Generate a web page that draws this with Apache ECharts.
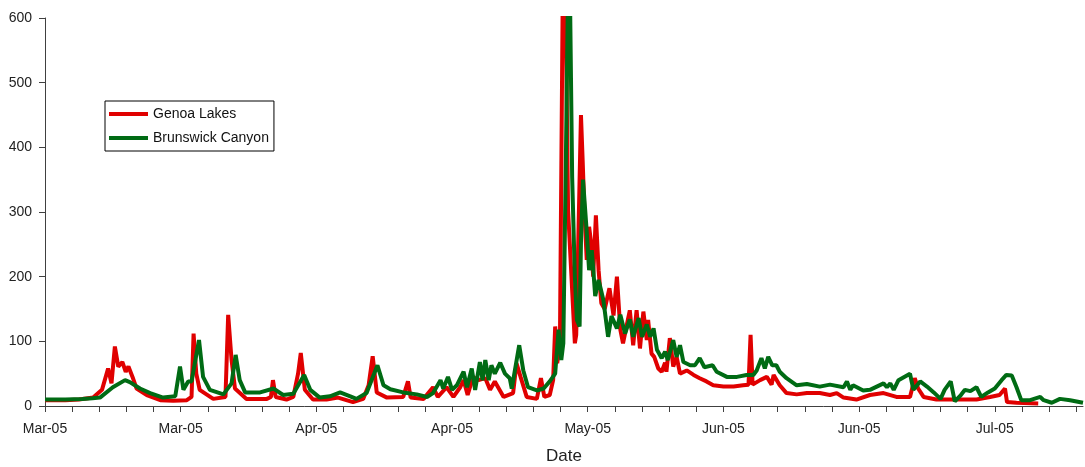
<!DOCTYPE html>
<html>
<head>
<meta charset="utf-8">
<script src="https://cdn.jsdelivr.net/npm/echarts@6/dist/echarts.min.js"></script>
<style>
  html, body { margin: 0; padding: 0; background: #fff; }
  #chart { width: 1085px; height: 467px; }
</style>
</head>
<body>
<div id="chart"></div>
<script>
// x values are days counted from 1 Mar 2005 (axis runs to 1 Aug = day 153)
const xTickLabels = ['Mar-05', 'Mar-05', 'Apr-05', 'Apr-05', 'May-05', 'Jun-05', 'Jun-05', 'Jul-05'];

const genoaDays = [0, 3, 5, 7.1, 8.4, 9.3, 9.8, 10.3, 10.8, 11.4, 11.9, 12.3, 12.9, 13.5, 15, 17, 18.9, 20.9, 21.6, 21.9,
  22.3, 22.8, 24.8, 26.6, 27.0, 27.5, 28.0, 29.7, 32.7, 33.3, 33.6, 34.0, 35.6, 36.6, 37.3, 37.7, 38.3, 39.5, 41.5, 43.2,
  45.4, 46.9, 47.7, 48.3, 48.9, 50.4, 52.8, 53.5, 53.9, 55.8, 57.2, 57.9, 59.2, 60.2, 61.2, 61.7, 62.3, 63.1, 63.9, 64.9,
  65.6, 66.3, 67.6, 69.0, 69.5, 70.1, 71.0, 72.5, 73.1, 73.6, 74.4, 74.9, 75.2, 75.5, 75.9, 76.3, 76.7, 77.1, 77.6, 78.1,
  78.3, 78.6, 79.0, 79.25, 79.5, 79.85, 80.2, 80.5, 80.8, 81.2, 81.6, 82.0, 82.5, 83.2, 83.8, 84.3, 84.8, 85.2, 86.2, 86.7,
  87.2, 87.7, 88.2, 88.7, 88.9, 89.4, 89.8, 90.4, 90.9, 91.4, 91.6, 92.1, 92.6, 93.1, 93.6, 94.6, 95.6, 96.5, 97.5, 98.5,
  100, 101.5, 102.9, 103.7, 104.0, 104.3, 105.4, 106.4, 107.1, 107.4, 108.3, 109.3, 110.8, 112.3, 114.2, 115.7, 116.7, 117.7, 119.6, 121.6,
  123.6, 125.5, 127.5, 128.2, 128.7, 129.5, 131.4, 135.4, 137.3, 139.3, 140.7, 141.5, 141.8, 143.2, 146.4];
const genoaFlow = [9, 9, 10, 13, 25, 58, 35, 92, 61, 68, 53, 61, 45, 27, 17, 9, 8, 9, 14, 112,
  50, 25, 11, 14, 141, 71, 27, 11, 11, 14, 40, 14, 10, 14, 50, 82, 25, 10, 10, 13,
  6, 11, 32, 77, 21, 13, 14, 38, 13, 11, 29, 14, 29, 14, 29, 40, 17, 45, 40, 43,
  25, 38, 14, 20, 66, 45, 14, 11, 43, 14, 17, 40, 123, 66, 97, 620, 650, 303, 200, 97,
  110, 252, 450, 380, 303, 226, 277, 252, 200, 295, 210, 159, 150, 182, 140, 200, 118, 97, 148, 94,
  148, 89, 146, 102, 133, 81, 76, 58, 53, 67, 53, 105, 61, 76, 50, 55, 48, 43, 38, 32,
  30, 30, 32, 33, 110, 33, 40, 45, 33, 48, 32, 20, 18, 20, 20, 17, 20, 13, 10, 17,
  20, 14, 14, 43, 27, 14, 10, 10, 10, 14, 17, 27, 6, 5, 4];

const brunsDays = [0, 3, 5.5, 7, 8.1, 10, 11.8, 12.5, 14, 15.5, 17.4, 19.2, 19.9, 20.4, 21.1, 21.6, 22.7, 23.3, 24.3, 26.3,
  27.5, 28.1, 28.7, 29.5, 31.7, 33.7, 35.1, 36.6, 38.2, 39.1, 40.5, 42.0, 43.5, 45.0, 45.9, 47.4, 49.0, 49.9, 50.9, 52.8,
  54.8, 56.3, 57.2, 58.3, 58.7, 59.4, 60.0, 60.7, 61.7, 62.2, 62.9, 63.4, 64.1, 64.5, 64.9, 65.4, 65.8, 66.3, 67.1, 67.8,
  68.5, 68.8, 69.9, 70.5, 71.2, 72.5, 73.5, 74.4, 75.2, 75.7, 76.1, 76.4, 76.8, 77.1, 77.4, 77.7, 78.1, 78.4, 78.8, 79.0,
  79.3, 79.8, 80.2, 80.6, 81.1, 81.6, 82.3, 83.0, 83.5, 84.3, 84.8, 85.5, 86.2, 86.7, 87.5, 88.0, 88.7, 89.2, 89.7, 90.2,
  90.9, 91.4, 91.8, 92.6, 93.1, 93.6, 94.1, 95.1, 95.8, 96.5, 97.2, 98.4, 99.0, 100.5, 102.0, 103.4, 104.4, 104.9, 105.6, 106.1,
  106.6, 107.2, 107.8, 108.3, 109.3, 110.8, 112.3, 114.2, 115.7, 117.7, 118.2, 118.7, 119.1, 120.6, 121.6, 123.6, 124.1, 124.6, 125.1, 125.8,
  127.5, 128.0, 129.0, 130.0, 131.0, 132.0, 132.6, 133.5, 134.1, 135.0, 135.6, 136.4, 137.3, 138.0, 139.0, 140.0, 141.0, 141.7, 142.5, 143.2,
  143.9, 145.2, 146.7, 147.2, 148.4, 149.6, 151.1, 153];
const brunsFlow = [10, 10, 11, 12, 13, 29, 40, 37, 27, 20, 13, 15, 61, 25, 38, 38, 102, 45, 25, 18,
  35, 79, 40, 21, 21, 27, 17, 19, 48, 25, 13, 15, 21, 15, 11, 20, 63, 32, 26, 21,
  18, 14, 20, 40, 27, 45, 25, 32, 53, 29, 58, 25, 68, 40, 71, 40, 63, 50, 67, 50,
  43, 27, 94, 55, 29, 24, 27, 38, 50, 118, 71, 97, 400, 650, 620, 355, 200, 133, 123, 252,
  350, 277, 210, 241, 170, 195, 164, 107, 139, 120, 141, 112, 134, 107, 136, 107, 126, 107, 120, 87,
  74, 84, 71, 102, 76, 94, 68, 63, 63, 74, 60, 63, 53, 45, 45, 48, 48, 55, 74, 58,
  76, 63, 63, 53, 43, 32, 34, 30, 33, 29, 38, 25, 32, 24, 25, 35, 29, 35, 25, 40,
  50, 25, 38, 30, 21, 11, 25, 38, 7, 17, 25, 23, 29, 14, 21, 27, 40, 48, 47, 29,
  9, 9, 14, 9, 5, 11, 9, 5];

const font = "'Liberation Sans', Arial, sans-serif";
const axisColor = '#404040';

function pairs(days, flow) {
  return days.map(function (d, i) { return [d, flow[i]]; });
}

const chart = echarts.init(document.getElementById('chart'));

const option = {
  animation: false,
  backgroundColor: '#fff',
  grid: { left: 45, right: 2, top: 18, bottom: 61, containLabel: false },
  legend: {
    left: 105,
    top: 101,
    orient: 'vertical',
    backgroundColor: '#fff',
    borderColor: '#000',
    borderWidth: 1,
    padding: [3, 5, 3, 4],
    itemGap: 4,
    itemWidth: 39,
    itemHeight: 4,
    icon: 'rect',
    textStyle: { fontFamily: font, fontSize: 14, color: '#111', lineHeight: 20 },
    data: ['Genoa Lakes', 'Brunswick Canyon']
  },
  xAxis: {
    type: 'value',
    min: 0,
    max: 153,
    interval: 4,   // a tick every 4 days, a label every 20
    axisLine: { show: true, onZero: false, lineStyle: { color: axisColor, width: 1 } },
    axisTick: { show: true, length: 6, lineStyle: { color: axisColor } },
    splitLine: { show: false },
    axisLabel: {
      margin: 16,
      fontFamily: font,
      fontSize: 14,
      color: '#222',
      showMaxLabel: false,
      hideOverlap: false,
      interval: 0,
      formatter: function (v) {
        const i = Math.round(v / 20);
        return (v % 20 === 0 && xTickLabels[i]) ? xTickLabels[i] : '';
      }
    }
  },
  yAxis: {
    type: 'value',
    min: 0,
    max: 600,
    interval: 100,
    axisLine: { show: true, lineStyle: { color: axisColor, width: 1 } },
    axisTick: { show: true, length: 6, lineStyle: { color: axisColor } },
    splitLine: { show: false },
    axisLabel: { margin: 13, fontFamily: font, fontSize: 14, color: '#222' }
  },
  graphic: [{
    type: 'text',
    x: 564,
    y: 448,
    style: { text: 'Date', fontFamily: font, fontSize: 17, fill: '#222', align: 'center' }
  }],
  series: [{
    name: 'Genoa Lakes',
    type: 'line',
    showSymbol: false,
    symbol: 'none',
    clip: true,
    color: '#e00000',
    lineStyle: { color: '#e00000', width: 4 },
    data: pairs(genoaDays, genoaFlow)
  }, {
    name: 'Brunswick Canyon',
    type: 'line',
    showSymbol: false,
    symbol: 'none',
    clip: true,
    color: '#006b14',
    lineStyle: { color: '#006b14', width: 4 },
    data: pairs(brunsDays, brunsFlow)
  }]
};

chart.setOption(option);
</script>
</body>
</html>
